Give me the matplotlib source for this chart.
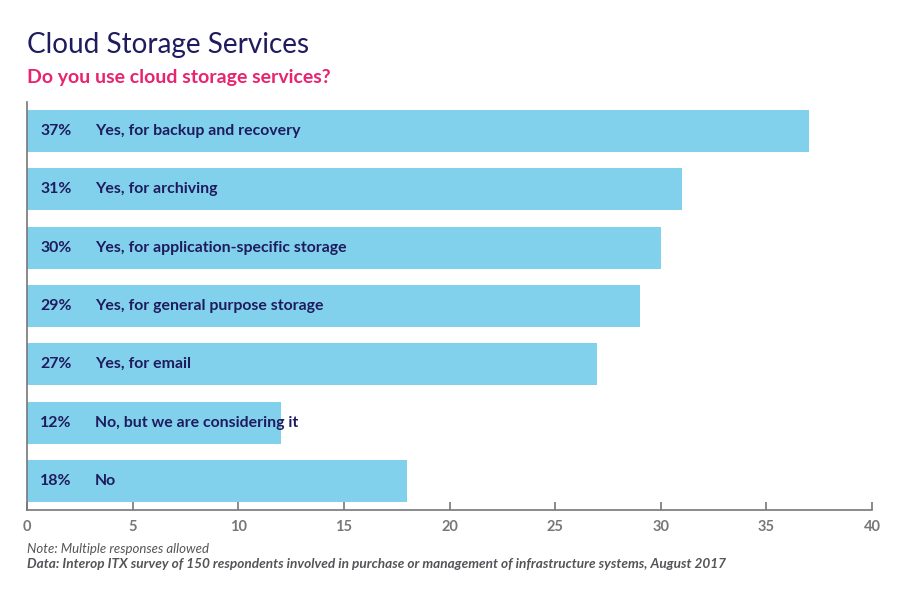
import matplotlib.pyplot as plt

# datos de la encuesta
etiquetas = ["Yes, for backup and recovery", "Yes, for archiving",
             "Yes, for application-specific storage", "Yes, for general purpose storage",
             "Yes, for email", "No, but we are considering it", "No"]
valores = [37, 31, 30, 29, 27, 12, 18]
ticks_x = [0, 5, 10, 15, 20, 25, 30, 35, 40]

azul = "#81D1EC"
marino = "#1F1B5E"
gris = "#77777A"
rosa = "#E8236F"

plt.rcParams['font.family'] = ['Lato', 'DejaVu Sans']

fig = plt.figure(figsize=(9.2, 5.96), dpi=100)
ax = fig.add_axes([27/920, 1-510/596, 845/920, 408/596])

pos = list(range(len(valores)))
ax.barh(pos, valores, height=0.72, color=azul)

for i in pos:
    ax.annotate(f"{valores[i]}%", xy=(0, i), xytext=(9.5, 0), textcoords="offset points",
                va="center", ha="left", fontsize=11.4, fontweight="bold", color=marino)
    ax.annotate(etiquetas[i], xy=(0, i), xytext=(49, 0), textcoords="offset points",
                va="center", ha="left", fontsize=11.4, fontweight="bold", color=marino)

ax.set_xlim(0, 40)
ax.set_ylim(6.5, -0.5)
ax.set_xticks(ticks_x)
ax.set_yticks([])
ax.spines["top"].set_visible(False)
ax.spines["right"].set_visible(False)
ax.spines["left"].set_color(gris)
ax.spines["bottom"].set_color(gris)
ax.spines["left"].set_linewidth(1.2)
ax.spines["bottom"].set_linewidth(1.2)
ax.tick_params(axis="x", direction="in", length=6, width=1.2, color=gris,
               labelcolor=gris, labelsize=10.5, pad=7)
for t in ax.get_xticklabels():
    t.set_fontweight("bold")

fig.text(27/920, 1-53/596, "Cloud Storage Services", fontsize=20.1, color=marino, ha="left")
fig.text(27/920, 1-83/596, "Do you use cloud storage services?", fontsize=14,
         fontweight="bold", color=rosa, ha="left")
fig.text(27/920, 1-553/596, "Note: Multiple responses allowed", fontsize=9.5,
         style="italic", color="#555559", ha="left")
fig.text(27/920, 1-568/596,
         "Data: Interop ITX survey of 150 respondents involved in purchase or management of infrastructure systems, August 2017",
         fontsize=9.8, style="italic", fontweight="bold", color="#555559", ha="left")

fig.savefig("out.png", dpi=100)
